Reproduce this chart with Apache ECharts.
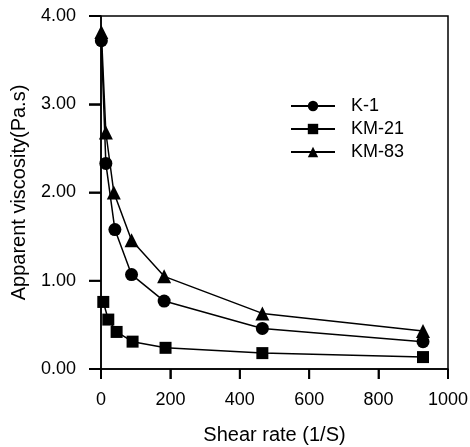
<!DOCTYPE html>
<html>
<head>
<meta charset="utf-8">
<script src="https://cdn.jsdelivr.net/npm/echarts@6/dist/echarts.min.js"></script>
<style>html,body{margin:0;padding:0;background:#fff}#c{width:470px;height:447px}</style>
</head>
<body>
<div id="c"></div>
<script>
const seriesNames = ['K-1', 'KM-21', 'KM-83'];
const k1X = [1, 14, 40, 88, 182, 465, 928];
const k1Y = [3.72, 2.33, 1.58, 1.07, 0.77, 0.46, 0.31];
const km21X = [6.6, 21, 45, 91, 186, 465, 928];
const km21Y = [0.76, 0.56, 0.42, 0.31, 0.24, 0.18, 0.135];
const km83X = [1, 14, 37, 88, 182, 465, 928];
const km83Y = [3.82, 2.68, 2.0, 1.46, 1.05, 0.63, 0.43];
const xTicks = [0, 200, 400, 600, 800, 1000];
const yTicks = [0, 1, 2, 3, 4];

const pair = (xs, ys) => xs.map((x, i) => [x, ys[i]]);
const font = 'Liberation Sans, Arial, sans-serif';
const mk = (name, xs, ys, symbol, size) => ({
  name, type: 'line', data: pair(xs, ys), symbol, symbolSize: size,
  itemStyle: {color: '#000'}, lineStyle: {color: '#000', width: 1.5},
  showAllSymbol: true, animation: false, z: 3
});

// outward tick marks drawn through the axis scales
const tickSeries = (vals, isX) => ({
  type: 'custom', silent: true, animation: false, clip: false, z: 10,
  data: vals.map(v => [v]),
  renderItem: (params, api) => {
    const v = api.value(0);
    const p = isX ? api.coord([v, yTicks[0]]) : api.coord([xTicks[0], v]);
    const L = isX ? 10 : 12;
    return {
      type: 'rect',
      shape: isX ? {x: p[0] - 1, y: p[1], width: 2, height: L}
                 : {x: p[0] - L, y: p[1] - 1, width: L, height: 2},
      style: {fill: '#000'}
    };
  }
});

const chart = echarts.init(document.getElementById('c'));
chart.setOption({
  backgroundColor: '#fff',
  animation: false,
  grid: {left: 101, right: 22, top: 16, bottom: 78, containLabel: false, outerBoundsMode: 'none',
         show: true, borderColor: '#000', borderWidth: 1.5},
  legend: {
    orient: 'vertical', left: 285, top: 92, itemWidth: 44, itemHeight: 13, itemGap: 5,
    textStyle: {fontFamily: font, fontSize: 18, color: '#000', padding: [0, 0, 0, 11]},
    data: seriesNames
  },
  xAxis: {
    type: 'value', min: xTicks[0], max: xTicks[xTicks.length - 1], interval: 200,
    name: 'Shear rate (1/S)', nameLocation: 'middle', nameGap: 56,
    nameTextStyle: {fontFamily: font, fontSize: 20, color: '#000'},
    axisLine: {show: true, onZero: false, lineStyle: {color: '#000', width: 1.5}},
    axisTick: {show: true, inside: false, length: 10, lineStyle: {color: '#000', width: 1.5}},
    axisLabel: {show: true, fontFamily: font, fontSize: 18, color: '#000', margin: 22, formatter: v => String(v)},
    splitLine: {show: false}
  },
  yAxis: {
    type: 'value', min: yTicks[0], max: yTicks[yTicks.length - 1], interval: 1,
    name: 'Apparent viscosity(Pa.s)', nameLocation: 'middle', nameGap: 72,
    nameTextStyle: {fontFamily: font, fontSize: 20, color: '#000'},
    axisLine: {show: true, onZero: false, lineStyle: {color: '#000', width: 1.5}},
    axisTick: {show: true, inside: false, length: 12, lineStyle: {color: '#000', width: 1.5}},
    axisLabel: {show: true, fontFamily: font, fontSize: 18, color: '#000', margin: 25, formatter: v => v.toFixed(2)},
    splitLine: {show: false}
  },
  series: [
    mk(seriesNames[0], k1X, k1Y, 'circle', 13),
    mk(seriesNames[1], km21X, km21Y, 'rect', 12),
    mk(seriesNames[2], km83X, km83Y, 'triangle', 14),
    tickSeries(xTicks, true),
    tickSeries(yTicks, false)
  ]
});
</script>
</body>
</html>
